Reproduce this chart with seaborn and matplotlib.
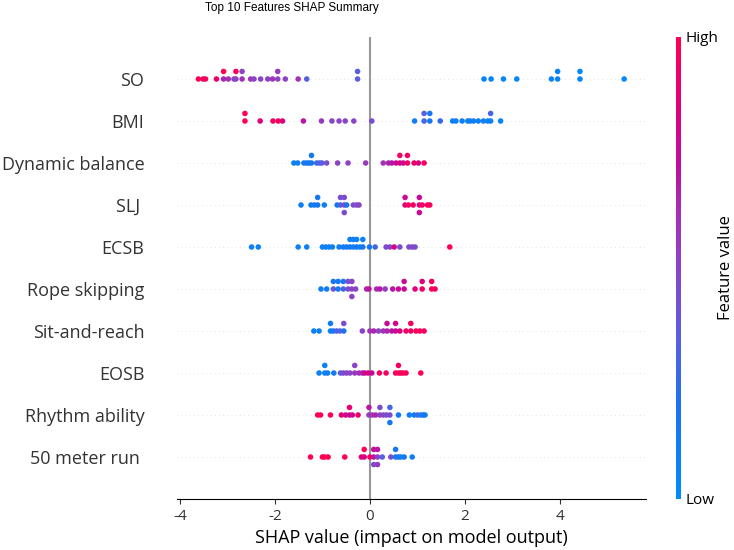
import numpy as np
import pandas as pd
import seaborn as sns
import matplotlib.pyplot as plt
from matplotlib.colors import LinearSegmentedColormap, Normalize
from matplotlib.cm import ScalarMappable

plt.rcParams['font.family'] = ['Open Sans', 'DejaVu Sans']
plt.rcParams['axes.unicode_minus'] = False

# feature names, top to bottom
features = ["SO", "BMI", "Dynamic balance", "SLJ ", "ECSB", "Rope skipping",
            "Sit-and-reach", "EOSB", "Rhythm ability", "50 meter run "]

# SHAP values and normalised feature values (0 = low, 1 = high) per feature
so_shap = [-3.61, -3.51, -3.46, -3.23, -3.08, -3.08, -2.98, -2.86, -2.82, -2.82,
           -2.69, -2.69, -2.51, -2.44, -2.30, -2.15, -2.05, -1.94, -1.94, -1.78,
           -1.51, -1.33, -0.26, -0.26, 2.40, 2.55, 2.81, 3.09, 3.82, 3.95, 3.95,
           4.42, 4.42, 5.35]
so_val = [1.0, 0.95, 0.95, 0.9, 0.65, 1.0, 0.6, 0.5, 0.5, 1.0,
          0.6, 0.5, 0.6, 0.5, 0.5, 0.5, 0.6, 0.5, 0.55, 0.5,
          0.6, 0.35, 0.35, 0.35, 0.05, 0.05, 0.03, 0.03, 0.05, 0.05, 0.05,
          0.03, 0.03, 0.02]

bmi_shap = [-2.63, -2.63, -2.31, -2.04, -1.93, -1.84, -1.40, -1.02, -0.80, -0.65,
            -0.52, -0.34, 0.04, 0.94, 1.14, 1.14, 1.26, 1.26, 1.48, 1.74, 1.81,
            1.94, 2.06, 2.11, 2.18, 2.28, 2.39, 2.48, 2.54, 2.54, 2.75]
bmi_val = [1.0, 1.0, 0.85, 0.95, 0.95, 0.85, 0.7, 0.55, 0.5, 0.5,
           0.5, 0.5, 0.45, 0.1, 0.3, 0.35, 0.15, 0.15, 0.25, 0.1, 0.1,
           0.1, 0.1, 0.1, 0.1, 0.1, 0.1, 0.1, 0.1, 0.3, 0.05]

dyn_shap = [-1.60, -1.52, -1.39, -1.33, -1.28, -1.23, -1.23, -1.12, -1.06, -1.01,
            -0.91, -0.68, -0.46, -0.09, 0.28, 0.39, 0.46, 0.55, 0.63, 0.63,
            0.70, 0.79, 0.79, 0.93, 1.02, 1.14]
dyn_val = [0.1, 0.1, 0.15, 0.15, 0.15, 0.15, 0.15, 0.3, 0.3, 0.35,
           0.45, 0.5, 0.5, 0.55, 0.6, 0.65, 0.7, 0.75, 0.85, 0.95,
           0.75, 0.95, 0.95, 0.9, 0.85, 0.95]

slj_shap = [-1.45, -1.24, -1.17, -1.10, -1.10, -0.96, -0.69, -0.62, -0.62,
            -0.54, -0.54, -0.54, -0.49, -0.35, -0.28, -0.23, 0.74, 0.74, 0.81,
            0.91, 1.04, 1.04, 1.04, 1.10, 1.21, 1.26]
slj_val = [0.1, 0.1, 0.15, 0.15, 0.15, 0.1, 0.15, 0.3, 0.45,
           0.5, 0.45, 0.45, 0.2, 0.45, 0.45, 0.5, 0.85, 0.75, 0.95,
           0.95, 0.85, 0.75, 0.75, 0.95, 1.0, 0.95]

ecsb_shap = [-2.49, -2.35, -1.51, -1.33, -1.00, -0.93, -0.86, -0.79, -0.65, -0.56,
             -0.49, -0.42, -0.42, -0.35, -0.35, -0.28, -0.28, -0.21, -0.15, -0.15,
             -0.01, 0.11, 0.34, 0.42, 0.51, 0.63, 0.82, 0.89, 0.95, 1.68]
ecsb_val = [0.1, 0.1, 0.1, 0.1, 0.1, 0.1, 0.1, 0.1, 0.1, 0.15,
            0.1, 0.15, 0.1, 0.1, 0.1, 0.15, 0.1, 0.1, 0.15, 0.1,
            0.15, 0.3, 0.45, 0.5, 0.8, 0.45, 0.45, 0.5, 0.45, 1.0]

rope_shap = [-1.03, -0.91, -0.77, -0.77, -0.67, -0.67, -0.56, -0.56, -0.46, -0.46,
             -0.38, -0.38, -0.38, -0.30, -0.07, -0.02, 0.14, 0.21, 0.32, 0.48,
             0.60, 0.72, 0.72, 0.95, 1.10, 1.10, 1.30, 1.30, 1.37]
rope_val = [0.1, 0.1, 0.4, 0.15, 0.15, 0.15, 0.3, 0.15, 0.45, 0.45,
            0.5, 0.5, 0.5, 0.5, 0.65, 0.7, 0.6, 0.7, 0.55, 0.7,
            0.75, 0.75, 0.75, 0.85, 0.95, 0.85, 1.0, 0.95, 0.95]

sit_shap = [-1.18, -1.07, -0.83, -0.83, -0.77, -0.70, -0.63, -0.55, -0.55, -0.16,
            0.00, 0.08, 0.18, 0.28, 0.36, 0.36, 0.46, 0.54, 0.54, 0.63,
            0.76, 0.86, 0.86, 0.97, 1.05, 1.14]
sit_val = [0.1, 0.1, 0.1, 0.1, 0.15, 0.3, 0.35, 0.2, 0.45, 0.5,
           0.6, 0.65, 0.5, 0.6, 0.65, 0.75, 0.7, 0.75, 0.8, 0.85,
           0.95, 0.9, 0.95, 1.0, 0.95, 0.95]

eosb_shap = [-1.07, -0.95, -0.95, -0.89, -0.76, -0.62, -0.56, -0.49, -0.42, -0.32,
             -0.32, -0.23, -0.16, -0.11, -0.04, 0.04, 0.20, 0.34, 0.54, 0.60,
             0.60, 0.65, 0.70, 0.76, 1.07]
eosb_val = [0.1, 0.1, 0.1, 0.1, 0.15, 0.35, 0.45, 0.5, 0.5, 0.55,
            0.5, 0.6, 0.65, 0.75, 0.85, 0.75, 0.95, 0.95, 0.95, 1.0,
            0.95, 0.95, 1.0, 0.95, 1.0]

rhythm_shap = [-1.10, -1.04, -0.83, -0.60, -0.51, -0.43, -0.43, -0.37, -0.25, -0.02,
               -0.02, 0.05, 0.12, 0.21, 0.21, 0.28, 0.35, 0.42, 0.42, 0.42,
               0.60, 0.83, 0.93, 1.00, 1.07, 1.12, 1.16]
rhythm_val = [1.0, 1.0, 1.0, 0.9, 0.8, 0.75, 0.9, 0.8, 0.9, 0.55,
              0.7, 0.6, 0.65, 0.5, 0.45, 0.5, 0.45, 0.45, 0.3, 0.15,
              0.15, 0.1, 0.1, 0.3, 0.1, 0.1, 0.15]

run_shap = [-1.25, -1.00, -0.95, -0.88, -0.53, -0.18, -0.12, -0.12, 0.00, 0.08,
            0.08, 0.08, 0.16, 0.16, 0.16, 0.26, 0.44, 0.54, 0.54, 0.60,
            0.65, 0.72, 0.89]
run_val = [1.0, 1.0, 1.0, 1.0, 1.0, 0.9, 0.8, 1.0, 1.0, 0.7,
           0.75, 0.45, 0.5, 0.7, 0.55, 0.35, 0.45, 0.15, 0.15, 0.15,
           0.1, 0.15, 0.1]

shap_lists = [so_shap, bmi_shap, dyn_shap, slj_shap, ecsb_shap,
              rope_shap, sit_shap, eosb_shap, rhythm_shap, run_shap]
val_lists = [so_val, bmi_val, dyn_val, slj_val, ecsb_val,
             rope_val, sit_val, eosb_val, rhythm_val, run_val]

# shap-like red/blue colormap
red_blue = LinearSegmentedColormap.from_list("red_blue", [
    (0.0, "#008bfb"), (0.2, "#1c72ee"), (0.35, "#5a5ee0"), (0.5, "#8a44c5"),
    (0.62, "#a62fb4"), (0.72, "#bd0fa0"), (0.86, "#e0007c"), (1.0, "#ff0052")])

row_height = 0.4
rows = []
n = len(features)
for i, (name, sv, fv) in enumerate(zip(features, shap_lists, val_lists)):
    pos = n - 1 - i
    sv = np.asarray(sv)
    # stack equal values: main line, then above, then below
    ys = np.zeros(len(sv))
    seen = {}
    for k, v in enumerate(sv):
        layer = seen.get(v, 0)
        ys[k] = np.ceil(layer / 2) * ((layer % 2) * 2 - 1)
        seen[v] = layer + 1
    ys *= 0.9 * (row_height / np.max(ys + 1))
    for x, y, c in zip(sv, ys, fv):
        rows.append({"feature": name, "shap": x, "y": pos + y, "value": c})
df = pd.DataFrame(rows)

fig = plt.figure(figsize=(7.34, 5.5), dpi=100)
ax = fig.add_axes([177 / 734, 51 / 550, 469 / 734, 462 / 550])

for pos in range(n):
    ax.axhline(pos, color="#cccccc", lw=0.5, dashes=(1, 5), zorder=-1)
ax.axvline(0, color="#999999", zorder=-1)

sns.scatterplot(data=df, x="shap", y="y", hue="value", palette=red_blue,
                hue_norm=(0, 1), s=16, linewidth=0, legend=False, ax=ax)

ax.set_xlim(-4.06, 5.81)
ax.set_ylim(-1, n)
ax.set_yticks(range(n))
ax.set_yticklabels(features[::-1], fontsize=13)
ax.xaxis.set_ticks_position("bottom")
ax.yaxis.set_ticks_position("none")
sns.despine(ax=ax, left=True)
ax.tick_params(color="#333333", labelcolor="#333333")
ax.tick_params("y", length=20, width=0.5, which="major")
ax.tick_params("x", labelsize=11)
ax.set_xlabel("SHAP value (impact on model output)", fontsize=13)
ax.set_ylabel("")

cax = fig.add_axes([675.5 / 734, 51 / 550, 5 / 734, 462 / 550])
sm = ScalarMappable(norm=Normalize(0, 1), cmap=red_blue)
cb = fig.colorbar(sm, cax=cax, ticks=[0, 1])
cb.set_ticklabels(["Low", "High"])
cb.set_label("Feature value", size=12, labelpad=0)
cb.ax.tick_params(labelsize=11, length=0)
cb.outline.set_visible(False)

fig.text(292 / 734, 1 - 2 / 550, "Top 10 Features SHAP Summary",
         ha="center", va="top", fontsize=8.5,
         family=["Liberation Sans Narrow", "Liberation Sans"])

fig.savefig("out.png", dpi=100)
